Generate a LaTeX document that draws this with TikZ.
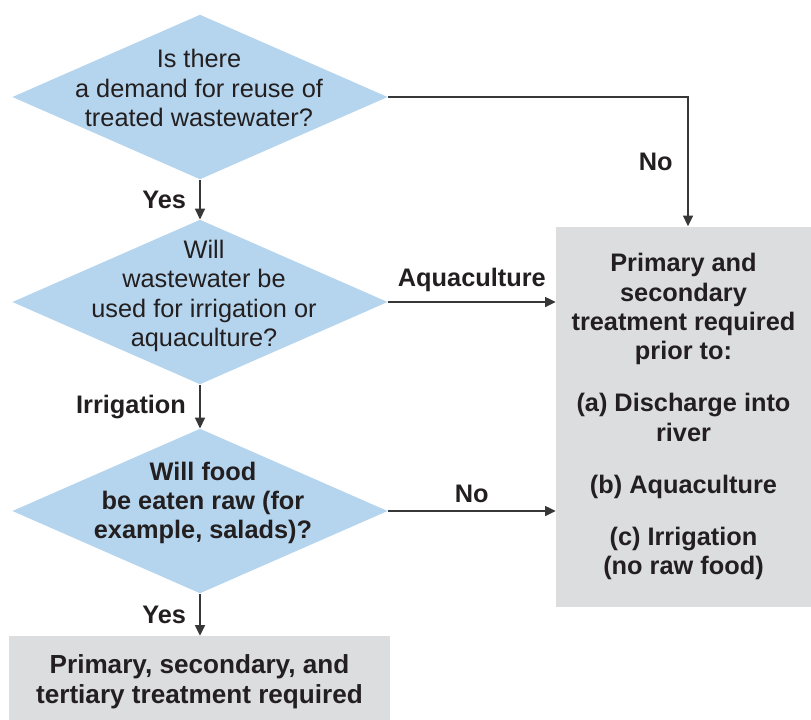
\documentclass[tikz,border=0pt]{standalone}
\usepackage{fontspec}
\setmainfont{Liberation Sans}
\usetikzlibrary{shapes.geometric,arrows.meta}
\definecolor{qblue}{RGB}{181,213,238}
\definecolor{boxgray}{RGB}{220,221,223}
\definecolor{ink}{RGB}{35,31,32}
\definecolor{wire}{RGB}{55,55,55}
\tikzset{
  decision/.style={diamond,fill=qblue,inner sep=0pt,
    minimum width=281.5pt,minimum height=123.5pt},
  qtext/.style={align=center,inner sep=0pt},
  result/.style={fill=boxgray,align=center,inner sep=0pt,
    font=\fontsize{19}{22}\selectfont\bfseries},
  flow/.style={draw=wire,line width=1.1pt,-{Triangle[width=7.5pt,length=8pt]}},
  tag/.style={font=\fontsize{19}{22}\selectfont\bfseries,inner sep=0pt}
}
\begin{document}
\begin{tikzpicture}[x=0.75pt,y=-0.75pt,text=ink,font=\fontsize{19}{22}\selectfont]
\useasboundingbox (0,0) rectangle (811,719);
% questions
\node[decision] (q1) at (200,97) {};
\node[qtext] (q1txt) at (199,88) {Is there\\a demand for reuse of\\treated wastewater?};
\node[decision] (q2) at (200,302) {};
\node[qtext] (q2txt) at (204,296) {Will\\wastewater be\\used for irrigation or\\aquaculture?};
\node[decision] (q3) at (200,511) {};
\node[qtext,font=\fontsize{19}{22}\selectfont\bfseries] (q3txt) at (203,503)
  {Will food\\be eaten raw (for\\example, salads)?};
% outcomes
\node[result,minimum width=191.25pt,minimum height=285pt] (treat) at (683.5,416.5)
  {Primary and\\secondary\\treatment required\\prior to:\\[17pt]
   (a) Discharge into\\river\\[17pt](b) Aquaculture\\[17pt](c) Irrigation\\(no raw food)};
\node[result,font=\fontsize{19.6}{22.5}\selectfont\bfseries,
  minimum width=285.75pt,minimum height=69pt] (full) at (199.5,682)
  {Primary, secondary, and\\tertiary treatment required};
% connectors
\draw[flow] (q1) -- node[tag,midway,left=10pt] {Yes} (q2);
\draw[flow] (q2) -- node[tag,midway,left=10pt] {Irrigation} (q3);
\draw[flow] (q3) -- node[tag,midway,left=10pt] {Yes} (q3 |- full.north);
\draw[flow] (q1) -| node[tag,pos=0.75,left=11pt] {No} ([xshift=3.4pt]treat.north);
\draw[flow] (q2) -- node[tag,midway,above=7pt] {Aquaculture} (q2 -| treat.west);
\draw[flow] (q3) -- node[tag,midway,above=6pt] {No} (q3 -| treat.west);
\end{tikzpicture}
\end{document}
